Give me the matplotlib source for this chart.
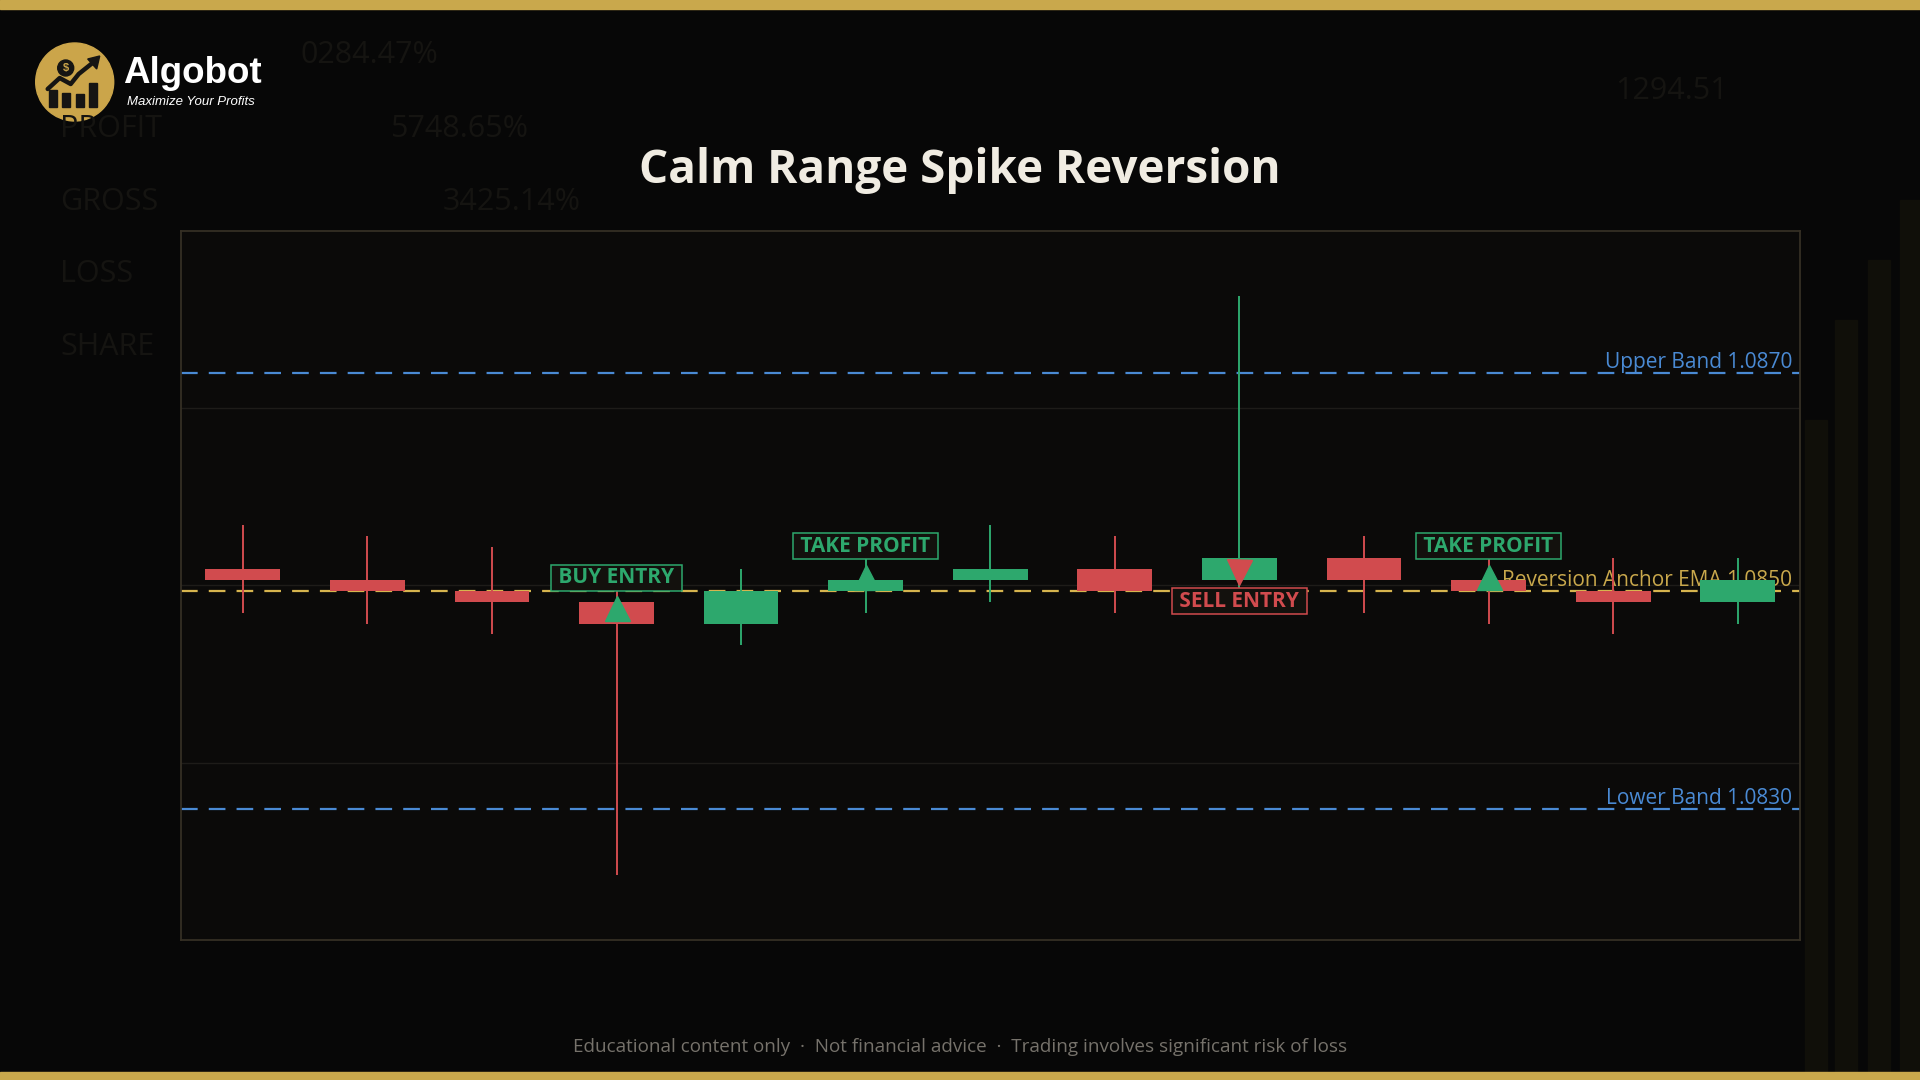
import numpy as np
import matplotlib.pyplot as plt
from matplotlib.patches import Circle, Rectangle, Polygon

plt.rcParams['font.family'] = ['Open Sans', 'DejaVu Sans']
plt.rcParams['lines.scale_dashes'] = False

# candles
opens  = [1.0852, 1.0851, 1.0850, 1.0849, 1.0847, 1.0850, 1.0851, 1.0852, 1.0851, 1.0853, 1.0851, 1.0850, 1.0849]
closes = [1.0851, 1.0850, 1.0849, 1.0847, 1.0850, 1.0851, 1.0852, 1.0850, 1.0853, 1.0851, 1.0850, 1.0849, 1.0851]
highs  = [1.0856, 1.0855, 1.0854, 1.0850, 1.0852, 1.0853, 1.0856, 1.0855, 1.0877, 1.0855, 1.0853, 1.0853, 1.0853]
lows   = [1.0848, 1.0847, 1.0846, 1.0824, 1.0845, 1.0848, 1.0849, 1.0848, 1.0850, 1.0848, 1.0847, 1.0846, 1.0847]

upper_band = 1.0870
lower_band = 1.0830
ema_anchor = 1.0850

# signal markers
sig_idx    = [3, 5, 8, 10]
sig_price  = [1.08484, 1.08513, 1.08517, 1.08513]
sig_kind   = ['buy', 'tp', 'sell', 'tp']
sig_text   = ['BUY ENTRY', 'TAKE PROFIT', 'SELL ENTRY', 'TAKE PROFIT']

GREEN = '#2DA86D'
RED = '#D14B4E'
BLUE = '#4A8AD4'
GOLD = '#D6B44E'
GOLD_TXT = '#C9A84C'

fig = plt.figure(figsize=(19.2, 10.8), dpi=100, facecolor='#070707')

# faint background decorations
ghost = '#151411'
for txt, x, y in [('0284.47%', 300, 55), ('PROFIT', 60, 129), ('5748.65%', 390, 129),
                  ('GROSS', 60, 202), ('3425.14%', 443, 202), ('LOSS', 60, 274), ('SHARE', 60, 347),
                  ('1294.51', 1615, 91)]:
    fig.text(x / 1920, 1 - y / 1080, txt, color=ghost, fontsize=22, va='center', ha='left')
for bx, top in [(1805, 420), (1835, 320), (1868, 260), (1900, 200)]:
    fig.patches.append(Rectangle((bx / 1920, 0), 22 / 1920, 1 - top / 1080,
                                 transform=fig.transFigure, color='#100f09', zorder=0))

# gold bars top and bottom
fig.patches.append(Rectangle((0, 1 - 9 / 1080), 1, 9 / 1080, transform=fig.transFigure, color='#C9A84C'))
fig.patches.append(Rectangle((0, 0), 1, 8 / 1080, transform=fig.transFigure, color='#C9A84C'))

ax = fig.add_axes([180.5 / 1920, 1 - 940 / 1080, 1619.5 / 1920, 709.3 / 1080])
ax.set_facecolor('#0B0A09')
for s in ax.spines.values():
    s.set_color('#352F24')
    s.set_linewidth(1.3)

x = np.arange(len(opens))
o = np.array(opens)
c = np.array(closes)
colors = [GREEN if cl >= op else RED for op, cl in zip(opens, closes)]

ax.vlines(x, lows, highs, colors=colors, linewidth=1.4, zorder=3)
ax.bar(x, c - o, bottom=o, width=0.6, color=colors, zorder=4)

dash = (0, (12, 8))
ax.axhline(upper_band, color=BLUE, lw=1.6, ls=dash, zorder=2)
ax.axhline(lower_band, color=BLUE, lw=1.6, ls=dash, zorder=2)
ax.axhline(ema_anchor, color=GOLD, lw=1.6, ls=dash, zorder=2)

tr = ax.get_yaxis_transform()
ax.text(0.995, upper_band, f'Upper Band {upper_band:.4f}', transform=tr, ha='right', va='bottom',
        color=BLUE, fontsize=15, zorder=2)
ax.text(0.995, lower_band, f'Lower Band {lower_band:.4f}', transform=tr, ha='right', va='bottom',
        color=BLUE, fontsize=15, zorder=2)
ax.text(0.995, ema_anchor, f'Reversion Anchor EMA {ema_anchor:.4f}', transform=tr, ha='right', va='bottom',
        color=GOLD_TXT, fontsize=15, zorder=2)

for i, p, k, t in zip(sig_idx, sig_price, sig_kind, sig_text):
    col = RED if k == 'sell' else GREEN
    mk = 'v' if k == 'sell' else '^'
    ax.plot(i, p, marker=mk, markersize=18, color=col, zorder=6, linestyle='none')
    off = -21 if k == 'sell' else 22
    ax.annotate(' ' + t + ' ', (i, p), xytext=(0, off), textcoords='offset points',
                ha='center', va='center', fontsize=15, fontweight='bold', color=col, zorder=7,
                bbox=dict(boxstyle='square,pad=0.12', fc='#13110D', ec=col, lw=1.1))

lo = min(lows) - 0.0006
hi = max(highs) + 0.0006
ax.set_ylim(lo, hi)
ax.set_xlim(-0.5, len(opens) - 0.5)
ax.set_yticks(np.linspace(lo, hi, 5)[1:-1])
ax.set_xticks([])
ax.tick_params(axis='y', length=0, labelleft=False)
ax.grid(axis='y', color='#1E1C19', lw=1)
ax.set_axisbelow(True)

fig.text(0.5, 1 - 170 / 1080, 'Calm Range Spike Reversion', ha='center', va='center',
         fontsize=33, fontweight='bold', color='#F0ECE2')
fig.text(0.5, 1 - 1047 / 1080, 'Educational content only  ·  Not financial advice  ·  Trading involves significant risk of loss',
         ha='center', va='center', fontsize=13.6, color='#76726B')

# logo
lax = fig.add_axes([(74.7 - 45) / 1920, 1 - (82 + 45) / 1080, 90 / 1920, 90 / 1080])
lax.set_xlim(-45, 45)
lax.set_ylim(-45, 45)
lax.set_aspect('equal')
lax.axis('off')
lax.add_patch(Circle((0, 0), 39, color='#CBA54A'))
dark = '#161513'
for bx, bh in [(-26, 17), (-13, 14), (1, 13), (14, 24)]:
    lax.add_patch(Rectangle((bx, -25), 8, bh, color=dark))
lax.plot([-27, -15, -4, 4, 19], [-7, 4, -2, 8, 20], color=dark, lw=3.2, solid_capstyle='round')
lax.add_patch(Polygon([[25, 26], [13, 23], [22, 13]], color=dark))
lax.add_patch(Circle((-9, 14), 8, color=dark))
lax.text(-9, 14, '$', color='#CBA54A', fontsize=8, fontweight='bold', ha='center', va='center',
         family='Liberation Sans')
fig.text(123 / 1920, 1 - 83 / 1080, 'Algobot', color='white', fontsize=26.5, fontweight='bold',
         family='Liberation Sans', va='baseline')
fig.text(127 / 1920, 1 - 105 / 1080, 'Maximize Your Profits', color='white', fontsize=9.5,
         style='italic', family='Liberation Sans', va='baseline')

fig.savefig('out.png', dpi=100, facecolor=fig.get_facecolor())
